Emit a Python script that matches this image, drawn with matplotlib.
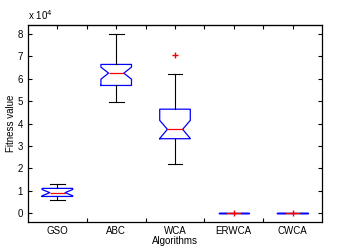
import matplotlib.pyplot as plt
import numpy as np

# values (units of 1e4)
algos = ['GSO', 'ABC', 'WCA', 'ERWCA', 'CWCA']
q1 = [0.74, 5.70, 3.32, 0.0, 0.0]
med = [0.91, 6.25, 3.74, 0.0, 0.0]
q3 = [1.10, 6.64, 4.64, 0.0, 0.0]
whislo = [0.57, 4.95, 2.19, 0.0, 0.0]
whishi = [1.29, 8.02, 6.22, 0.0, 0.0]
cilo = [0.77, 5.98, 3.33, 0.0, 0.0]
cihi = [1.05, 6.52, 4.14, 0.0, 0.0]
outliers = [[], [], [7.08], [0.0], [0.0]]

plt.rcParams['font.family'] = ['Liberation Sans', 'DejaVu Sans']

fig = plt.figure(figsize=(3.5, 2.48), dpi=100)
ax = fig.add_axes([0.08, 0.105, 0.84, 0.794])

stats = []
for i in range(len(algos)):
    stats.append(dict(label=algos[i], q1=q1[i], med=med[i], q3=q3[i],
                      whislo=whislo[i], whishi=whishi[i],
                      cilo=cilo[i], cihi=cihi[i], fliers=outliers[i]))

ax.bxp(stats, positions=np.arange(1, 6), widths=0.52, capwidths=0.25,
       shownotches=True,
       boxprops=dict(color='#0000ff', linewidth=0.9),
       medianprops=dict(color='#ff0000', linewidth=0.9),
       whiskerprops=dict(color='black', linewidth=0.8),
       capprops=dict(color='black', linewidth=0.8),
       flierprops=dict(marker='+', markeredgecolor='#ff0000',
                       markersize=5, linestyle='none', markeredgewidth=1.0))

ax.set_xlim(0.5, 5.5)
ax.set_ylim(-0.4, 8.4)
ax.set_yticks(range(0, 9))
ax.set_xticks(range(1, 6))
ax.set_xticklabels(algos)
ax.set_xticks([1.5, 2.5, 3.5, 4.5], minor=True)
ax.tick_params(axis='x', which='major', length=0, labelsize=7, pad=3)
ax.tick_params(axis='x', which='minor', direction='in', length=3, width=0.8)
ax.tick_params(axis='y', direction='in', length=3, width=0.8,
               right=True, labelsize=7)

top = ax.secondary_xaxis('top')
top.set_xticks(np.arange(1, 5.5, 0.5))
top.set_xticklabels([])
top.tick_params(direction='in', length=3, width=0.8)

for s in ax.spines.values():
    s.set_linewidth(0.9)

ax.text(0.0, 1.015, 'x 10$^4$', transform=ax.transAxes, fontsize=7,
        ha='left', va='bottom')
ax.set_xlabel('Algorithms', fontsize=7, labelpad=0)
ax.set_ylabel('Fitness value', fontsize=7)
ax.yaxis.set_label_coords(-0.04, 0.5)

fig.savefig('out.png', dpi=100)
